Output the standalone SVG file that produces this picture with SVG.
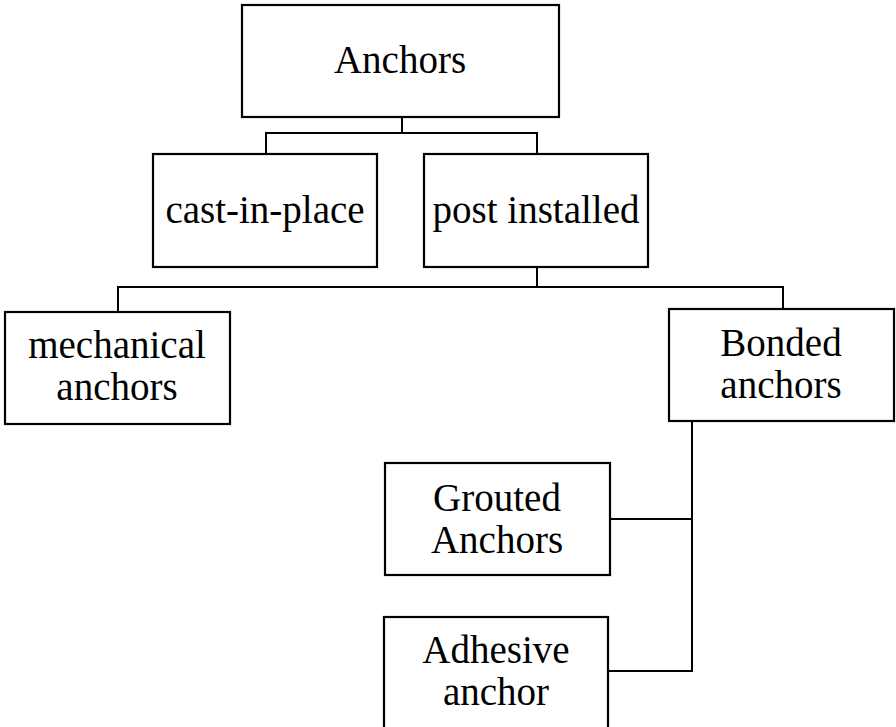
<svg xmlns="http://www.w3.org/2000/svg" width="896" height="727" viewBox="0 0 896 727">
<style>
.box{fill:#fff;stroke:#000;stroke-width:2.2}
.c{fill:none;stroke:#000;stroke-width:2}
text{font-family:"Liberation Serif","Times New Roman",serif;font-size:39px;fill:#000;text-anchor:middle}
</style>
<rect width="896" height="727" fill="#fff"/>
<g id="connectors">
<path class="c" d="M402 117 V133 M266 154 V133 H537 V154"/>
<path class="c" d="M537 267 V287 M118 312 V287 H783 V309"/>
<path class="c" d="M692 421 V671 H608 M610 519 H692"/>
</g>
<g id="n-anchors"><rect class="box" x="242" y="5" width="317" height="112"/><text x="400" y="73">Anchors</text></g>
<g id="n-cast"><rect class="box" x="153" y="154" width="224" height="113"/><text x="265" y="223">cast-in-place</text></g>
<g id="n-post"><rect class="box" x="424" y="154" width="224" height="113"/><text x="536" y="223">post installed</text></g>
<g id="n-mech"><rect class="box" x="5" y="312" width="225" height="112"/><text x="117" y="358">mechanical</text><text x="117" y="400">anchors</text></g>
<g id="n-bonded"><rect class="box" x="669" y="309" width="225" height="112"/><text x="781" y="356">Bonded</text><text x="781" y="398">anchors</text></g>
<g id="n-grouted"><rect class="box" x="385" y="463" width="225" height="112"/><text x="497" y="511">Grouted</text><text x="497" y="553">Anchors</text></g>
<g id="n-adhesive"><rect class="box" x="384" y="617" width="224" height="120"/><text x="496" y="663">Adhesive</text><text x="496" y="705">anchor</text></g>
</svg>
